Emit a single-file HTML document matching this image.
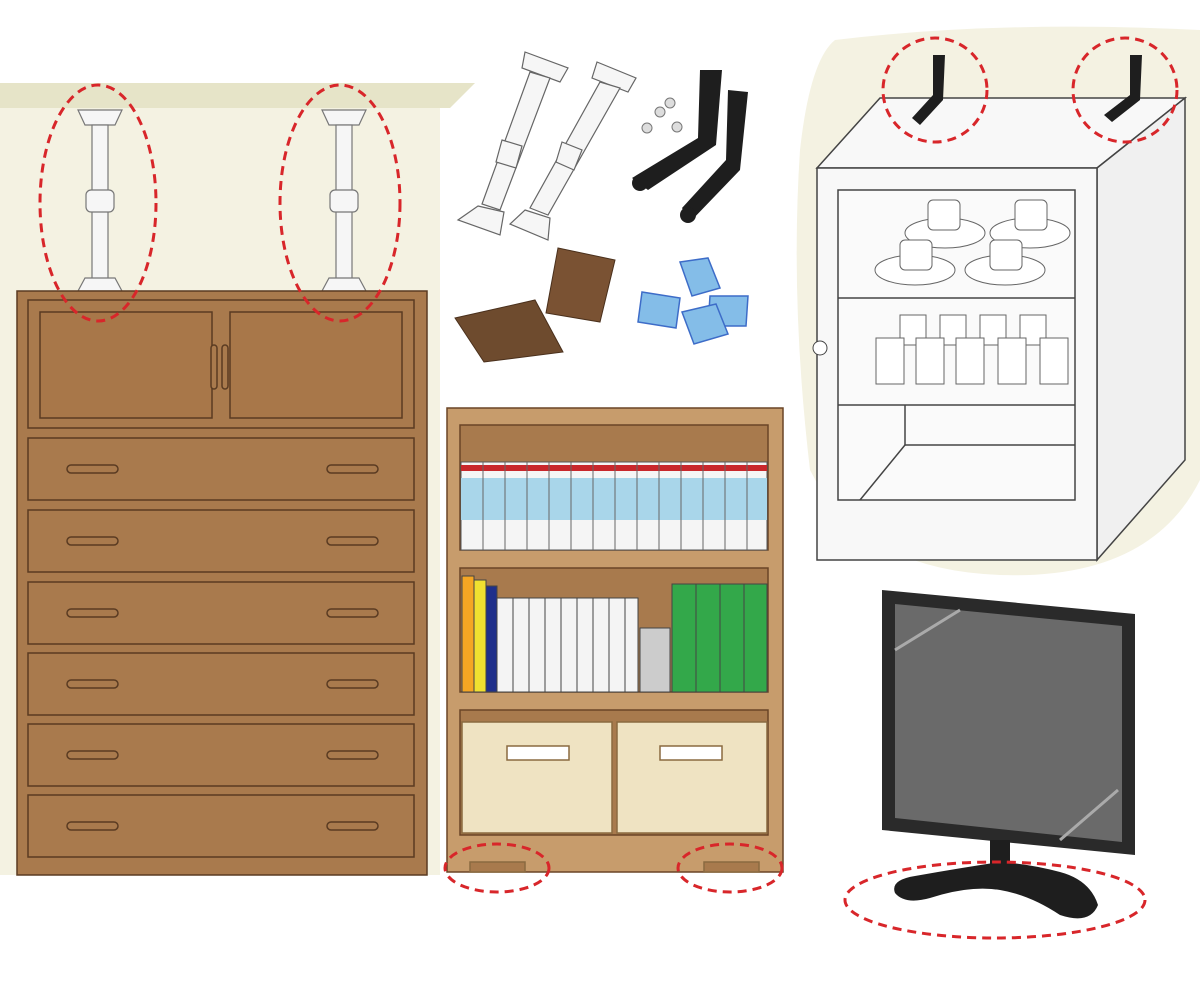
<!DOCTYPE html>
<html><head><meta charset="utf-8"><style>html,body{margin:0;padding:0;background:#fff}svg{display:block}</style></head>
<body>
<svg width="1200" height="984" viewBox="0 0 1200 984" xmlns="http://www.w3.org/2000/svg">
<!-- wall -->
<rect x="0" y="100" width="440" height="775" fill="#f4f2e2"/>
<polygon points="0,83 475,83 450,108 0,108" fill="#e6e4c8"/>
<!-- poles left -->
<g stroke="#777" stroke-width="1.2" fill="#f6f6f6">
<polygon points="78,110 122,110 115,125 85,125"/>
<rect x="92" y="125" width="16" height="155"/>
<rect x="86" y="190" width="28" height="22" rx="5"/>
<polygon points="85,278 115,278 122,291 78,291"/>
<polygon points="322,110 366,110 359,125 329,125"/>
<rect x="336" y="125" width="16" height="155"/>
<rect x="330" y="190" width="28" height="22" rx="5"/>
<polygon points="329,278 359,278 366,291 322,291"/>
</g>
<!-- dresser -->
<g stroke="#5a3b22" stroke-width="1.5">
<rect x="17" y="291" width="410" height="584" fill="#a97a4d"/>
<rect x="28" y="300" width="386" height="128" fill="#a97a4d"/>
<rect x="40" y="312" width="172" height="106" fill="#a87749"/>
<rect x="230" y="312" width="172" height="106" fill="#a87749"/>
<rect x="211" y="345" width="6" height="44" rx="3" fill="#a97a4d"/>
<rect x="222" y="345" width="6" height="44" rx="3" fill="#a97a4d"/>
</g>
<g stroke="#5a3b22" stroke-width="1.5" fill="#a97a4d">
<rect x="28" y="438" width="386" height="62"/><rect x="67" y="465" width="51" height="8" rx="4"/><rect x="327" y="465" width="51" height="8" rx="4"/>
<rect x="28" y="510" width="386" height="62"/><rect x="67" y="537" width="51" height="8" rx="4"/><rect x="327" y="537" width="51" height="8" rx="4"/>
<rect x="28" y="582" width="386" height="62"/><rect x="67" y="609" width="51" height="8" rx="4"/><rect x="327" y="609" width="51" height="8" rx="4"/>
<rect x="28" y="653" width="386" height="62"/><rect x="67" y="680" width="51" height="8" rx="4"/><rect x="327" y="680" width="51" height="8" rx="4"/>
<rect x="28" y="724" width="386" height="62"/><rect x="67" y="751" width="51" height="8" rx="4"/><rect x="327" y="751" width="51" height="8" rx="4"/>
<rect x="28" y="795" width="386" height="62"/><rect x="67" y="822" width="51" height="8" rx="4"/><rect x="327" y="822" width="51" height="8" rx="4"/>
</g>
<g fill="none" stroke="#d8262a" stroke-width="3" stroke-dasharray="9,6">
<ellipse cx="98" cy="203" rx="58" ry="118"/>
<ellipse cx="340" cy="203" rx="60" ry="118"/>
</g>
<!-- centre items: poles -->
<g stroke="#666" stroke-width="1.2" fill="#f6f6f6">
<polygon points="525,52 568,68 560,82 522,68"/>
<polygon points="530,72 550,78 500,210 482,204"/>
<polygon points="502,140 522,146 516,168 496,162"/>
<polygon points="478,206 504,212 500,235 458,220"/>
<polygon points="597,62 636,78 628,92 592,78"/>
<polygon points="600,82 620,88 548,215 530,208"/>
<polygon points="562,142 582,150 574,170 556,162"/>
<polygon points="525,210 550,218 548,240 510,224"/>
</g>
<!-- brackets -->
<g fill="#1e1e1e">
<polygon points="700,70 722,70 716,145 648,190 632,178 698,138"/>
<polygon points="728,90 748,92 740,170 690,222 682,208 726,160"/>
<circle cx="640" cy="183" r="8"/><circle cx="688" cy="215" r="8"/>
</g>
<g stroke="#777" fill="#ddd"><circle cx="647" cy="128" r="5"/><circle cx="660" cy="112" r="5"/><circle cx="670" cy="103" r="5"/><circle cx="677" cy="127" r="5"/></g>
<!-- pads -->
<polygon points="455,318 535,300 563,352 484,362" fill="#6e4b2e" stroke="#4a301c"/>
<polygon points="558,248 615,260 600,322 546,313" fill="#7a5233" stroke="#4a301c"/>
<!-- blue gel -->
<g fill="#84bde8" stroke="#3d6cc8" stroke-width="1.5">
<polygon points="680,262 708,258 720,288 692,296"/>
<polygon points="642,292 680,298 676,328 638,322"/>
<polygon points="710,296 748,296 746,326 708,326"/>
<polygon points="682,312 716,304 728,334 694,344"/>
</g>
<!-- bookshelf -->
<g stroke="#6a4526" stroke-width="1.5">
<rect x="447" y="408" width="336" height="464" fill="#c79c6c"/>
<rect x="460" y="425" width="308" height="125" fill="#a87a4d"/>
<rect x="460" y="568" width="308" height="124" fill="#a87a4d"/>
<rect x="460" y="710" width="308" height="125" fill="#a87a4d"/>
</g>
<rect x="461" y="462" width="306" height="88" fill="#f5f5f5" stroke="#555"/>
<rect x="461" y="478" width="306" height="42" fill="#a9d6ea"/>
<rect x="461" y="465" width="306" height="6" fill="#c8272b"/>
<g stroke="#666" stroke-width="1">
<line x1="483" y1="462" x2="483" y2="550"/><line x1="505" y1="462" x2="505" y2="550"/><line x1="527" y1="462" x2="527" y2="550"/><line x1="549" y1="462" x2="549" y2="550"/><line x1="571" y1="462" x2="571" y2="550"/><line x1="593" y1="462" x2="593" y2="550"/><line x1="615" y1="462" x2="615" y2="550"/><line x1="637" y1="462" x2="637" y2="550"/><line x1="659" y1="462" x2="659" y2="550"/><line x1="681" y1="462" x2="681" y2="550"/><line x1="703" y1="462" x2="703" y2="550"/><line x1="725" y1="462" x2="725" y2="550"/><line x1="747" y1="462" x2="747" y2="550"/>
</g>
<g stroke="#444" stroke-width="1">
<rect x="462" y="576" width="12" height="116" fill="#f5a623"/>
<rect x="474" y="580" width="12" height="112" fill="#f0e030"/>
<rect x="486" y="586" width="11" height="106" fill="#1f2f8a"/>
<rect x="497" y="598" width="141" height="94" fill="#f4f4f4"/>
<rect x="640" y="628" width="30" height="64" fill="#ccc"/>
<rect x="672" y="584" width="95" height="108" fill="#33a84a"/>
<line x1="696" y1="584" x2="696" y2="692"/><line x1="720" y1="584" x2="720" y2="692"/><line x1="744" y1="584" x2="744" y2="692"/>
<line x1="513" y1="598" x2="513" y2="692"/><line x1="529" y1="598" x2="529" y2="692"/><line x1="545" y1="598" x2="545" y2="692"/><line x1="561" y1="598" x2="561" y2="692"/><line x1="577" y1="598" x2="577" y2="692"/><line x1="593" y1="598" x2="593" y2="692"/><line x1="609" y1="598" x2="609" y2="692"/><line x1="625" y1="598" x2="625" y2="692"/>
</g>
<g stroke="#8a6a40" stroke-width="1.5">
<rect x="462" y="722" width="150" height="111" fill="#efe3c2"/>
<rect x="617" y="722" width="150" height="111" fill="#efe3c2"/>
<rect x="507" y="746" width="62" height="14" fill="#fff"/>
<rect x="660" y="746" width="62" height="14" fill="#fff"/>
<rect x="470" y="862" width="55" height="10" fill="#a87a4d"/>
<rect x="704" y="862" width="55" height="10" fill="#a87a4d"/>
</g>
<g fill="none" stroke="#d8262a" stroke-width="3" stroke-dasharray="9,6">
<ellipse cx="497" cy="868" rx="52" ry="24"/>
<ellipse cx="730" cy="868" rx="52" ry="24"/>
</g>
<!-- right cabinet -->
<path d="M835,40 Q1000,20 1200,30 L1200,480 Q1150,580 1000,575 Q860,570 810,470 Q790,300 800,150 Q810,60 835,40 Z" fill="#f4f2e2"/>
<g stroke="#444" stroke-width="1.5">
<polygon points="817,168 880,98 1185,98 1097,168" fill="#f8f8f8"/>
<polygon points="1097,168 1185,98 1185,460 1097,560" fill="#f0f0f0"/>
<rect x="817" y="168" width="280" height="392" fill="#f8f8f8"/>
<rect x="838" y="190" width="237" height="310" fill="#fafafa"/>
<line x1="838" y1="298" x2="1075" y2="298"/><line x1="838" y1="405" x2="1075" y2="405"/>
<line x1="860" y1="500" x2="905" y2="445"/><line x1="905" y1="445" x2="1075" y2="445"/><line x1="905" y1="405" x2="905" y2="445"/>
</g>
<circle cx="820" cy="348" r="7" fill="#fff" stroke="#444"/>
<g fill="#fff" stroke="#666">
<ellipse cx="945" cy="233" rx="40" ry="15"/><ellipse cx="1030" cy="233" rx="40" ry="15"/>
<ellipse cx="915" cy="270" rx="40" ry="15"/><ellipse cx="1005" cy="270" rx="40" ry="15"/>
<rect x="928" y="200" width="32" height="30" rx="5"/><rect x="1015" y="200" width="32" height="30" rx="5"/>
<rect x="900" y="240" width="32" height="30" rx="5"/><rect x="990" y="240" width="32" height="30" rx="5"/>
<rect x="900" y="315" width="26" height="30"/><rect x="940" y="315" width="26" height="30"/><rect x="980" y="315" width="26" height="30"/><rect x="1020" y="315" width="26" height="30"/>
<rect x="876" y="338" width="28" height="46"/><rect x="916" y="338" width="28" height="46"/><rect x="956" y="338" width="28" height="46"/><rect x="998" y="338" width="28" height="46"/><rect x="1040" y="338" width="28" height="46"/>
</g>
<g fill="#1e1e1e">
<polygon points="933,55 945,55 943,100 920,125 912,118 933,95"/>
<polygon points="1130,55 1142,55 1140,100 1112,122 1104,115 1130,95"/>
</g>
<g fill="none" stroke="#d8262a" stroke-width="3" stroke-dasharray="9,6">
<ellipse cx="935" cy="90" rx="52" ry="52"/>
<ellipse cx="1125" cy="90" rx="52" ry="52"/>
</g>
<!-- TV -->
<polygon points="882,590 1135,614 1135,855 882,830" fill="#2a2a2a"/>
<polygon points="895,604 1122,626 1122,842 895,818" fill="#6a6a6a"/>
<line x1="895" y1="650" x2="960" y2="610" stroke="#aaa" stroke-width="3"/>
<line x1="1060" y1="840" x2="1118" y2="790" stroke="#aaa" stroke-width="3"/>
<rect x="990" y="840" width="20" height="30" fill="#1e1e1e"/>
<path d="M1000,862 Q960,868 915,876 Q890,880 895,893 Q905,905 930,898 Q970,885 1000,890 Q1030,895 1060,915 Q1090,925 1098,905 Q1090,880 1060,872 Q1030,864 1000,862 Z" fill="#1e1e1e"/>
<ellipse cx="995" cy="900" rx="150" ry="38" fill="none" stroke="#d8262a" stroke-width="3" stroke-dasharray="9,6"/>
</svg>
</body></html>
